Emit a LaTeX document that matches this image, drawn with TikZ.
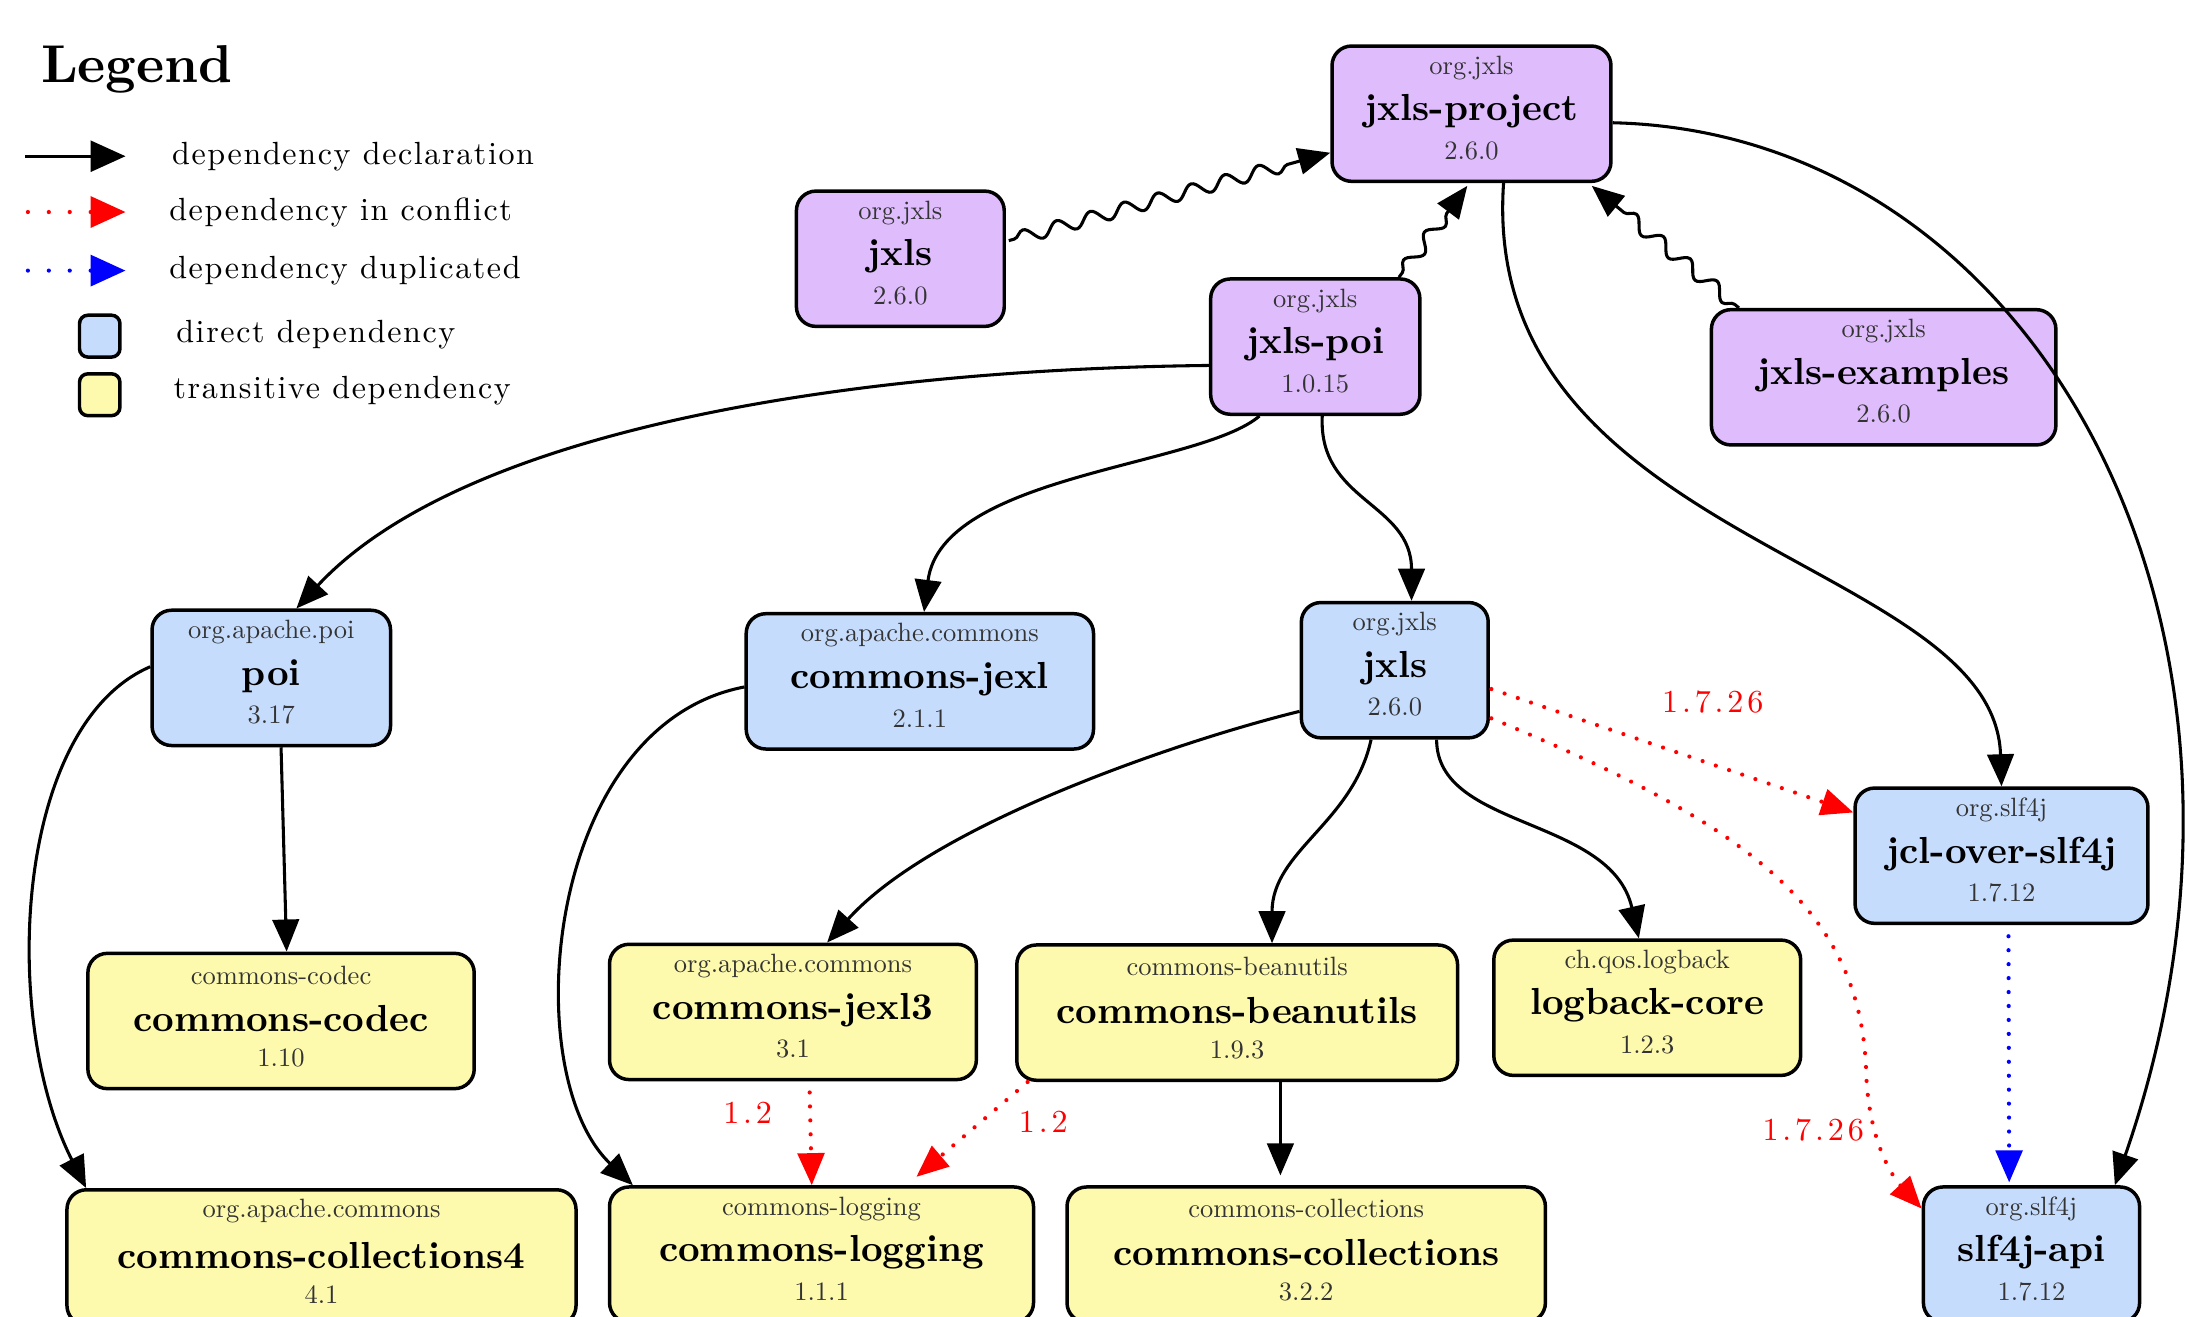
\documentclass[tikz,border=0pt]{standalone}
\usepackage{fontspec}
\setmainfont{lmroman10}[Extension=.otf, UprightFont=*-regular, BoldFont=*-bold, ItalicFont=*-italic, BoldItalicFont=*-bolditalic]
\usetikzlibrary{arrows.meta,calc,decorations.pathmorphing}
\definecolor{purF}{HTML}{DFBDFD}
\definecolor{bluF}{HTML}{C6DCFD}
\definecolor{yelF}{HTML}{FDFAAD}
\definecolor{txtG}{HTML}{333333}
\tikzset{
  pkg/.style={draw=black, line width=1.25pt, rounded corners=7pt, minimum height=48.5pt, inner sep=0pt},
  pur/.style={pkg, fill=purF},
  dir/.style={pkg, fill=bluF},
  tra/.style={pkg, fill=yelF},
  grp/.style={font=\fontsize{9.5}{11}\selectfont, text=txtG, inner sep=0pt},
  art/.style={font=\bfseries\fontsize{13.5}{15}\selectfont, inner sep=0pt},
  ver/.style={font=\fontsize{9.5}{11}\selectfont, text=txtG, inner sep=0pt},
  tip/.tip={Triangle[length=11.5pt,width=9.5pt]},
  dep/.style={line width=1.1pt, -tip},
  wavy/.style={dep, decorate, decoration={snake, amplitude=2.4pt, segment length=12.5pt, pre length=2pt, post length=12pt}},
  conf/.style={red, line width=1.5pt, dash pattern=on 0pt off 5pt, line cap=round, -tip},
  dupl/.style={blue, line width=1.5pt, dash pattern=on 0pt off 5pt, line cap=round, -tip},
  elab/.style={red, font=\addfontfeature{LetterSpace=12}\fontsize{11.5}{13}\selectfont, inner sep=0pt},
  legtxt/.style={anchor=west, inner sep=0pt, font=\addfontfeature{LetterSpace=5}\fontsize{11.5}{13}\selectfont},
  legtip/.tip={Triangle[length=12.5pt,width=11pt]},
}
\newcommand\pkgbox[8]{%
  \node[#5, minimum width=#4*0.5pt] (#1) at (#2,#3) {};
  \node[grp] (#1g) at (#2,#3-33) {#6};
  \node[art] (#1a) at (#2,#3-1.5) {#7};
  \node[ver] (#1v) at (#2,#3+26.5) {#8};
}
\begin{document}
\begin{tikzpicture}[x=0.5pt,y=-0.5pt]
\useasboundingbox (0,0) rectangle (1568,944);
\clip (0,0) rectangle (1568,944);
\fill[white] (0,0) rectangle (1568,944);

% Legend
\node[anchor=west, inner sep=0pt, font=\bfseries\fontsize{19.1}{21}\selectfont] (legT) at (29,50) {Legend};
\coordinate (l1a) at (18,112); \coordinate (l1b) at (90,112);
\coordinate (l2a) at (20,152); \coordinate (l2b) at (90,152);
\coordinate (l3a) at (20,194); \coordinate (l3b) at (90,194);
\draw[line width=1.2pt, -legtip] (l1a) -- (l1b);
\draw[red, line width=1.5pt, dash pattern=on 0pt off 7.5pt, line cap=round, -legtip] (l2a) -- (l2b);
\draw[blue, line width=1.5pt, dash pattern=on 0pt off 7.5pt, line cap=round, -legtip] (l3a) -- (l3b);
\node[pkg, fill=bluF, minimum width=14.5pt, minimum height=15pt, rounded corners=3pt] (lb1) at (71.5,241) {};
\node[pkg, fill=yelF, minimum width=14.5pt, minimum height=15pt, rounded corners=3pt] (lb2) at (71.5,283) {};
\node[legtxt] (lt1) at (123,112) {dependency declaration};
\node[legtxt] (lt2) at (121,152) {dependency in conflict};
\node[legtxt] (lt3) at (121,194) {dependency duplicated};
\node[legtxt] (lt4) at (126,240) {direct dependency};
\node[legtxt] (lt5) at (124,280) {transitive dependency};

% Nodes
\pkgbox{proj}{1055}{81.5}{200}{pur}{org.jxls}{jxls-project}{2.6.0}
\pkgbox{jx}{645.5}{185.5}{149}{pur}{org.jxls}{jxls}{2.6.0}
\pkgbox{jpoi}{943}{248.5}{150}{pur}{org.jxls}{jxls-poi}{1.0.15}
\pkgbox{ex}{1350.5}{270.5}{247}{pur}{org.jxls}{jxls-examples}{2.6.0}
\pkgbox{poi}{194.5}{486}{171}{dir}{org.apache.poi}{poi}{3.17}
\pkgbox{jexl}{659.5}{488.5}{249}{dir}{org.apache.commons}{commons-jexl}{2.1.1}
\pkgbox{jxb}{1000}{480.5}{134}{dir}{org.jxls}{jxls}{2.6.0}
\pkgbox{jcl}{1435}{613.5}{210}{dir}{org.slf4j}{jcl-over-slf4j}{1.7.12}
\pkgbox{codec}{201.5}{732}{277}{tra}{commons-codec}{commons-codec}{1.10}
\pkgbox{jexlt}{568.5}{725.5}{263}{tra}{org.apache.commons}{commons-jexl3}{3.1}
\pkgbox{bean}{887}{726}{316}{tra}{commons-beanutils}{commons-beanutils}{1.9.3}
\pkgbox{logb}{1181}{722.5}{220}{tra}{ch.qos.logback}{logback-core}{1.2.3}
\pkgbox{colf}{230.5}{901.5}{365}{tra}{org.apache.commons}{commons-collections4}{4.1}
\pkgbox{clog}{589}{899.5}{304}{tra}{commons-logging}{commons-logging}{1.1.1}
\pkgbox{col}{936.5}{899.5}{343}{tra}{commons-collections}{commons-collections}{3.2.2}
\pkgbox{slf}{1456.5}{899.5}{155}{dir}{org.slf4j}{slf4j-api}{1.7.12}

% Wavy edges to the parent project
\draw[wavy] ($(jx.east)+(2,-13)$) -- ($(proj.west)+(0,28)$);
\draw[wavy] ($(jpoi.north)+(60,0)$) -- ($(proj.south)+(-3,2)$);
\draw[wavy] ($(ex.north west)+(21,0)$) -- ($(proj.south east)+(-15,2)$);

% Dependency declarations
\draw[dep] ($(jpoi.west)+(0,13.5)$) .. controls (600,265) and (330,310) .. ($(poi.north)+(18,0)$);
\draw[dep] ($(jpoi.south)+(-40,0)$) .. controls (860,335) and (675,340) .. ($(jexl.north)+(3,0)$);
\draw[dep] ($(jpoi.south)+(5,0)$) .. controls (945,360) and (1012,360) .. ($(jxb.north)+(12,0)$);
\draw[dep] ($(proj.south)+(23,0)$) .. controls (1060,390) and (1430,400) .. (jcl.north);
\draw[dep] ($(proj.east)+(0,6.5)$) .. controls (1460,95) and (1655,450) .. ($(slf.north east)+(-19,0)$);
\draw[dep] ($(poi.west)+(0,-8)$) .. controls (10,520) and (0,730) .. ($(colf.north west)+(15,0)$);
\draw[dep] ($(poi.south)+(7,0)$) -- ($(codec.north)+(4,0)$);
\draw[dep] ($(jexl.west)+(0,4)$) .. controls (390,520) and (370,770) .. ($(clog.north west)+(18,0)$);
\draw[dep] ($(jxb.west)+(0,29.5)$) .. controls (850,530) and (670,590) .. ($(jexlt.north)+(24.5,0)$);
\draw[dep] ($(jxb.south)+(-17,0)$) .. controls (970,590) and (912,610) .. ($(bean.north)+(25,0)$);
\draw[dep] ($(jxb.south)+(30,0)$) .. controls (1030,595) and (1155,585) .. ($(logb.north)+(-6,0)$);
\draw[dep] ($(bean.south)+(31,0)$) -- ($(col.north)+(-18.5,-7)$);

% Conflicts
\draw[conf] ($(jxb.east)+(1,13.5)$) -- ($(jcl.west)+(0,-31)$);
\draw[conf] ($(jxb.east)+(1,34.5)$) .. controls (1250,590) and (1335,650) .. (1338,770)
   .. controls (1340,820) and (1358,845) .. ($(slf.west)+(0,-33)$);
\draw[conf] ($(jexlt.south)+(12,8)$) -- ($(clog.north)+(-7,0)$);
\draw[conf] ($(bean.south west)+(9,0)$) -- ($(clog.north)+(68,-6)$);
\draw[dupl] ($(jcl.south)+(5,8)$) -- ($(slf.north)+(-16,-2)$);

% Edge labels
\node[elab] (e1) at (1228,503) {1.7.26};
\node[elab] (e2) at (1300,810) {1.7.26};
\node[elab] (e3) at (536,798) {1.2};
\node[elab] (e4) at (748,804) {1.2};
\end{tikzpicture}
\end{document}
